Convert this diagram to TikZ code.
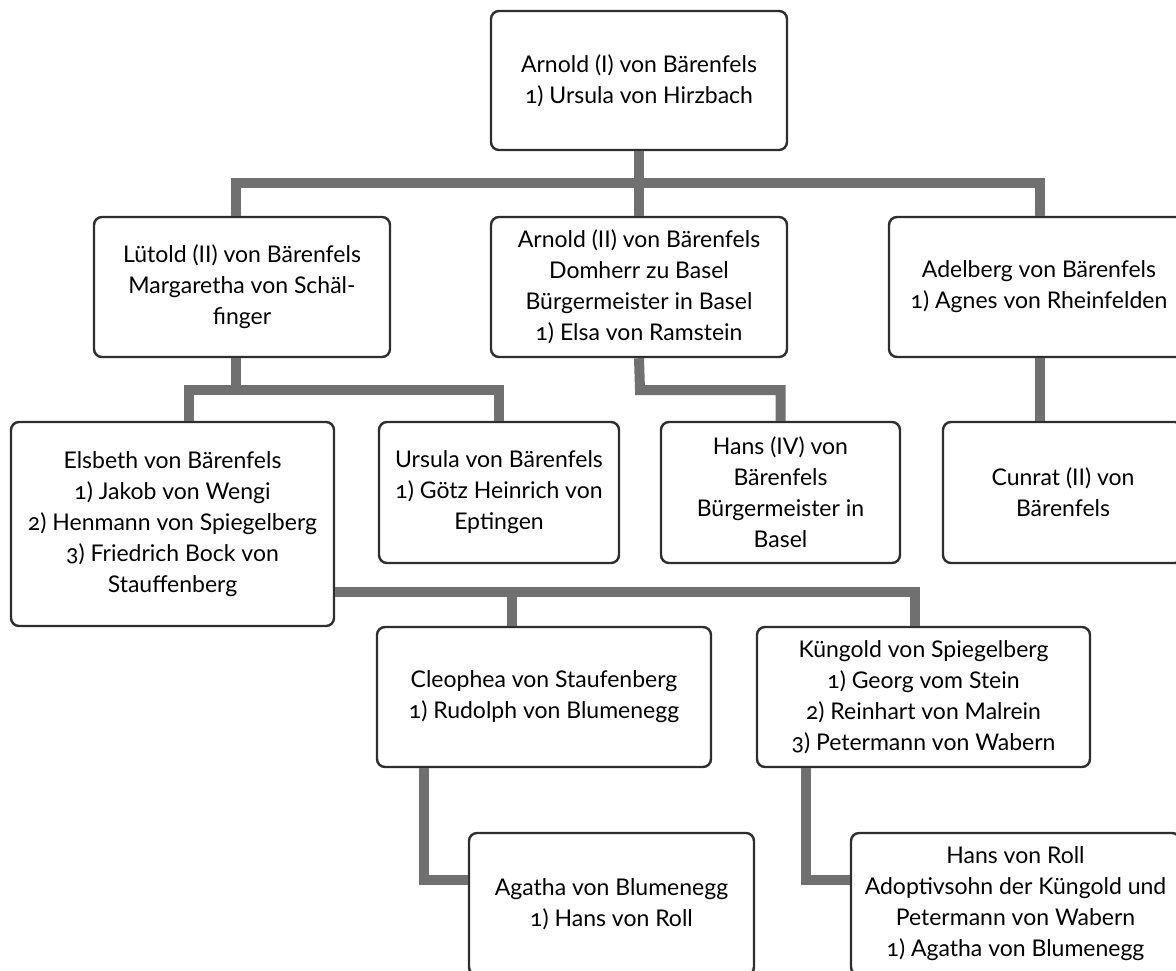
\documentclass[tikz,border=0pt]{standalone}
\usepackage{fontspec}
\setmainfont{Lato}[Numbers=OldStyle]
\usepackage{tikz}
\definecolor{boxline}{HTML}{2E2E2E}
\definecolor{treeline}{HTML}{707070}
\tikzset{
  person/.style={draw=boxline, line width=1.2pt, rounded corners=4pt, fill=white,
    align=center, inner sep=0pt, font=\fontsize{11.5}{15.5}\selectfont},
  branch/.style={draw=treeline, line width=5pt, line join=miter}
}

\begin{document}
\begin{tikzpicture}[x=0.5pt, y=-0.5pt]
      \useasboundingbox (0,0) rectangle (1176,970);
      % connector junctions
      \coordinate (busL) at (236,183);
      \coordinate (busR) at (1040,183);
      \coordinate (lutL) at (189,390);
      \coordinate (lutR) at (499,390);
      \coordinate (arnJ) at (640,390);
      \coordinate (elsC) at (512,592);
      \coordinate (elsR) at (915,592);
      \coordinate (cleJ) at (424,880);
      \coordinate (kunJ) at (806,880);

      % generation 1 and 2
      \node [person, minimum width=148pt, minimum height=69.5pt] (top) at (639,80.5)
           {Arnold (I) von Bärenfels\\1) Ursula von Hirzbach};
      \node [person, minimum width=148pt, minimum height=70pt] (lut) at (242,287)
           {Lütold (II) von Bärenfels\\Margaretha von Schäl-\\finger};
      \node [person, minimum width=148pt, minimum height=70pt] (arn) at (639,287)
           {Arnold (II) von Bärenfels\\Domherr zu Basel\\Bürgermeister in Basel\\1) Elsa von Ramstein};
      \node [person, minimum width=150pt, minimum height=70pt] (adb) at (1039,287)
           {Adelberg von Bärenfels\\1) Agnes von Rheinfelden};

      % generation 3
      \node [person, minimum width=161.5pt, minimum height=102pt] (els) at (172.5,524)
           {Elsbeth von Bärenfels\\1) Jakob von Wengi\\2) Henmann von Spiegelberg\\3) Friedrich Bock von\\Stauffenberg};
      \node [person, minimum width=120pt, minimum height=70.5pt] (urs) at (499,492.5)
           {Ursula von Bärenfels\\1) Götz Heinrich von\\Eptingen};
      \node [person, minimum width=119.5pt, minimum height=70.5pt] (hans) at (780.5,492.5)
           {Hans (IV) von\\Bärenfels\\Bürgermeister in\\Basel};
      \node [person, minimum width=120pt, minimum height=70.5pt] (cun) at (1063,492.5)
           {Cunrat (II) von\\Bärenfels};

      % generation 4 and 5
      \node [person, minimum width=167pt, minimum height=70pt] (cle) at (544,697)
           {Cleophea von Staufenberg\\1) Rudolph von Blumenegg};
      \node [person, minimum width=166.5pt, minimum height=70pt] (kun) at (923.5,697)
           {Küngold von Spiegelberg\\1) Georg vom Stein\\2) Reinhart von Malrein\\3) Petermann von Wabern};
      \node [person, minimum width=142.5pt, minimum height=71pt] (aga) at (611.5,904)
           {Agatha von Blumenegg\\1) Hans von Roll};
      \node [person, minimum width=164.5pt, minimum height=71pt] (rol) at (1015.5,904)
           {Hans von Roll\\Adoptivsohn der Küngold und\\Petermann von Wabern\\1) Agatha von Blumenegg};

      % tree lines
      \draw [branch] (top.south) -- (arn.north);
      \draw [branch] (lut.north -| busL) -- (busL) -- (busR) -- (adb.north -| busR);
      \draw [branch] (lut.south -| busL) -- (busL |- lutL);
      \draw [branch] (els.north -| lutL) -- (lutL) -- (lutR) -- (urs.north -| lutR);
      \draw [branch] (arn.south) -- (arnJ) -| (hans.north);
      \draw [branch] (adb.south -| busR) -- (cun.north -| busR);
      \draw [branch] (els.east |- elsR) -- (elsR) -- (kun.north -| elsR);
      \draw [branch] (elsC) -- (cle.north -| elsC);
      \draw [branch] (cle.south -| cleJ) -- (cleJ) -- (aga.west |- cleJ);
      \draw [branch] (kun.south -| kunJ) -- (kunJ) -- (rol.west |- kunJ);
    \end{tikzpicture}
\end{document}
